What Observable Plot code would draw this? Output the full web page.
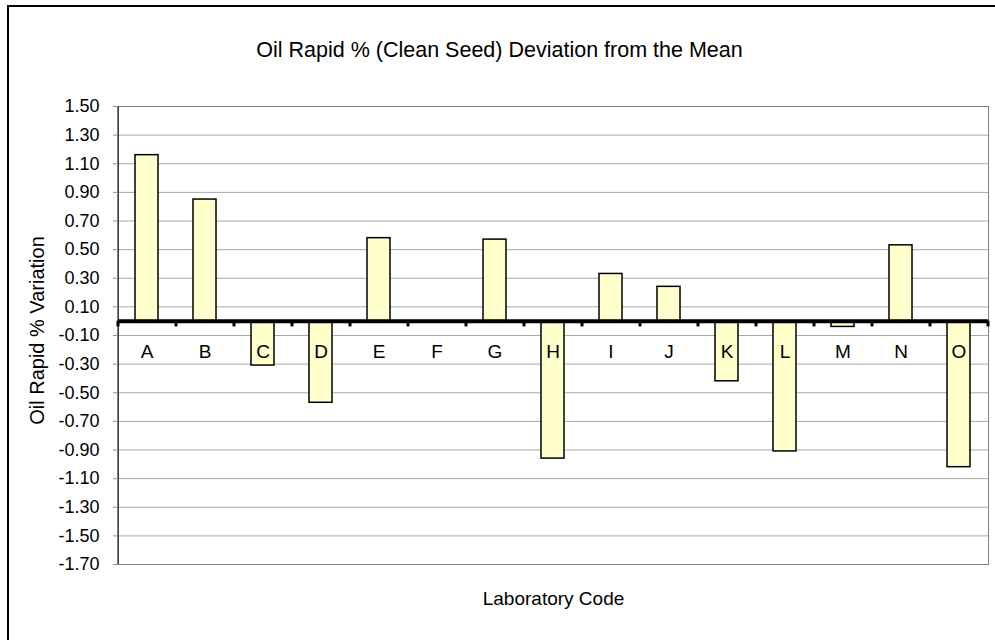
<!DOCTYPE html>
<html><head><meta charset="utf-8">
<script src="https://cdn.jsdelivr.net/npm/d3@7"></script>
<script src="https://cdn.jsdelivr.net/npm/@observablehq/plot@0.6"></script>
<style>
html,body{margin:0;padding:0;background:#fff;overflow:hidden;}
#wrap{position:relative;width:995px;height:640px;overflow:hidden;font-family:"Liberation Sans",Arial,sans-serif;}
#frame{position:absolute;left:7px;top:5px;width:1200px;height:800px;border:2px solid #000;box-sizing:border-box;}
#chart{position:absolute;left:0;top:0;}
</style></head>
<body>
<div id="wrap"><div id="frame"></div><div id="chart"></div></div>
<script>
const labs = ["A","B","C","D","E","F","G","H","I","J","K","L","M","N","O"];
const values = [1.16, 0.85, -0.31, -0.57, 0.58, 0.00, 0.57, -0.96, 0.33, 0.24, -0.42, -0.91, -0.04, 0.53, -1.02];
const yTicks = [1.5, 1.3, 1.1, 0.9, 0.7, 0.5, 0.3, 0.1, -0.1, -0.3, -0.5, -0.7, -0.9, -1.1, -1.3, -1.5, -1.7];
const titleText = "Oil Rapid % (Clean Seed) Deviation from the Mean";
const yLabel = "Oil Rapid % Variation";
const xLabel = "Laboratory Code";

const data = labs.map((lab, i) => ({lab, v: values[i]}));
const half = 29;

const chart = Plot.plot({
  width: 995, height: 640,
  marginTop: 106, marginBottom: 76, marginLeft: 118, marginRight: 7,
  style: {fontFamily: '"Liberation Sans", Arial, sans-serif', background: "transparent", overflow: "visible"},
  x: {domain: labs, paddingInner: 0.6, paddingOuter: 0.3, axis: null, label: null},
  y: {domain: [-1.7, 1.5], axis: null, label: null},
  marks: [
    Plot.gridY(yTicks, {stroke: "#a8a8a8", strokeOpacity: 1}),
    Plot.frame({stroke: "#808080"}),
    Plot.ruleX([labs[0]], {dx: -half, y1: -1.7, y2: 1.5, stroke: "#000", strokeWidth: 1}),
    Plot.axisY(yTicks, {label: null, tickSize: 5, tickPadding: 14, tickFormat: d => d.toFixed(2), fontSize: 18, stroke: "#909090", fill: "#000"}),
    Plot.barY(data, {x: "lab", y: "v", fill: "#FFFFCC", stroke: "#000", strokeWidth: 1.5}),
    Plot.ruleY([0], {stroke: "#000", strokeWidth: 4}),
    Plot.ruleX(labs, {dx: -half, y1: 0, y2: -0.04, stroke: "#000", strokeWidth: 3}),
    Plot.ruleX([labs[labs.length - 1]], {dx: half, y1: 0, y2: -0.04, stroke: "#000", strokeWidth: 3}),
    Plot.text(labs, {x: d => d, y: 0, dy: 31, fontSize: 19, fill: "#000"}),
    Plot.text([yLabel], {frameAnchor: "left", dx: -81, dy: -5, rotate: -90, textAnchor: "middle", fontSize: 20, fill: "#000"}),
    Plot.text([xLabel], {frameAnchor: "bottom", dy: 40, fontSize: 19, fill: "#000"}),
    Plot.text([titleText], {frameAnchor: "top-left", dx: 499 - 118, dy: -65, textAnchor: "middle", fontSize: 21.5, fill: "#000"})
  ]
});
document.getElementById("chart").appendChild(chart);
</script>
</body></html>
